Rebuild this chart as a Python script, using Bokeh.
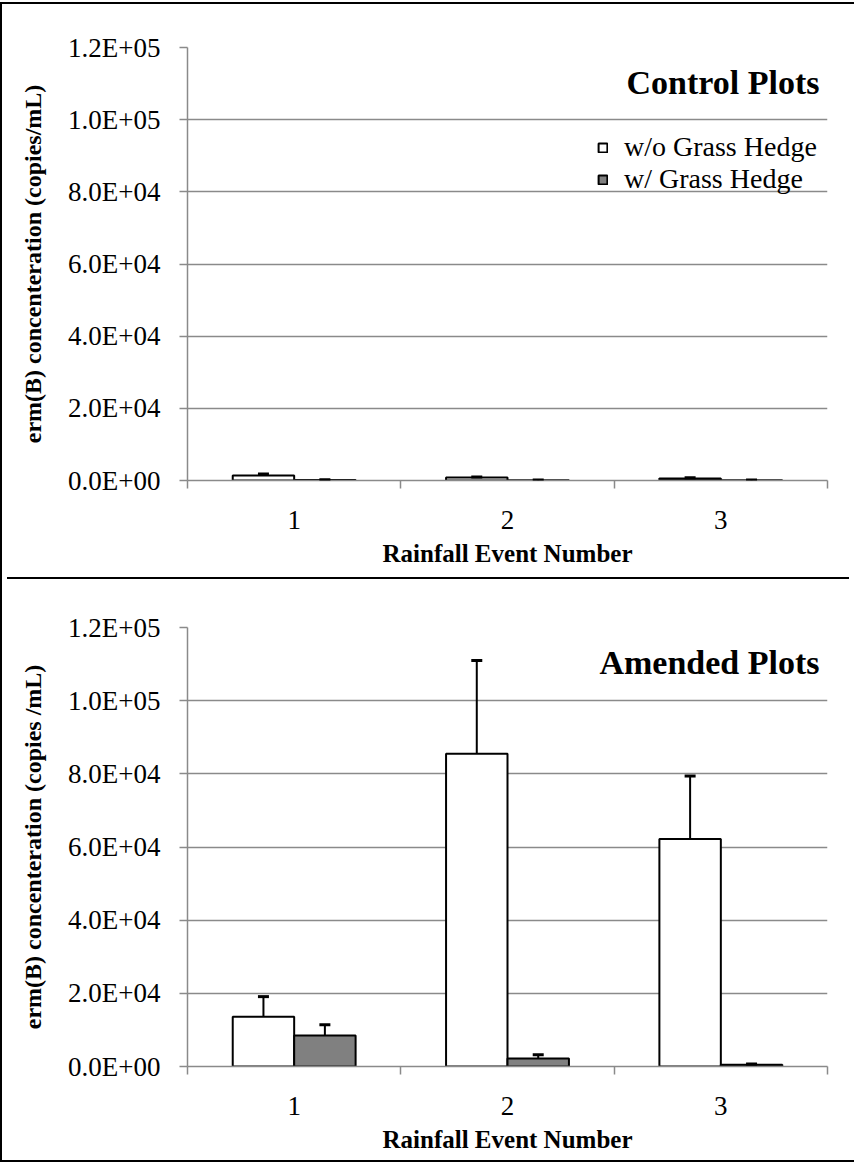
import numpy as np
from bokeh.plotting import figure
from bokeh.models import (ColumnDataSource, FixedTicker, Whisker, TeeHead, Label,
                          Legend, LegendItem, Range1d, Div, LinearAxis)
from bokeh.layouts import column
from bokeh.embed import file_html
from bokeh.resources import INLINE

# ---------------- data ----------------
events = [1, 2, 3]
event_labels = ["1", "2", "3"]
y_ticks = [0, 20000, 40000, 60000, 80000, 100000, 120000]
y_tick_labels = ["0.0E+00", "2.0E+04", "4.0E+04", "6.0E+04", "8.0E+04", "1.0E+05", "1.2E+05"]

series_names = ["w/o Grass Hedge", "w/ Grass Hedge"]
series_colors = ["#ffffff", "#808080"]

control_without = [1400, 800, 550]
control_without_err = [400, 200, 200]
control_with = [150, 100, 80]
control_with_err = [60, 40, 30]

amended_without = [13600, 85500, 62200]
amended_without_err = [5500, 25500, 17200]
amended_with = [8500, 2200, 500]
amended_with_err = [2900, 1000, 150]

x_title = "Rainfall Event Number"
y_title_top = "erm(B) concenteration (copies/mL)"
y_title_bottom = "erm(B) concenteration (copies /mL)"

# ---------------- style ----------------
FONT = "serif"
GRID = "#8a8a8a"
FRAME_W = 640
BAR_W = 0.288
YMAX = 120000


def make_panel(title, y_title, wo, wo_err, wi, wi_err, frame_h, mb_bottom, with_legend):
    p = figure(frame_width=FRAME_W, frame_height=frame_h,
               min_border_left=185, min_border_right=17,
               min_border_top=43, min_border_bottom=mb_bottom,
               x_range=Range1d(0.5, 3.5), y_range=Range1d(0, YMAX),
               output_backend="svg", toolbar_location=None, tools="")
    p.outline_line_color = None

    p.xgrid.visible = False
    p.ygrid.ticker = FixedTicker(ticks=y_ticks)
    p.ygrid.grid_line_color = GRID
    p.ygrid.grid_line_width = 1.5

    # y axis
    yax = p.yaxis[0]
    yax.ticker = FixedTicker(ticks=y_ticks)
    yax.major_label_overrides = {float(t): l for t, l in zip(y_ticks, y_tick_labels)}
    yax.axis_line_color = GRID
    yax.axis_line_width = 1.5
    yax.major_tick_line_color = GRID
    yax.major_tick_line_width = 1.5
    yax.major_tick_out = 8
    yax.major_tick_in = 0
    yax.minor_tick_line_color = None
    yax.major_label_standoff = 19
    yax.major_label_text_font = FONT
    yax.major_label_text_font_size = "27px"
    yax.major_label_text_color = "black"
    yax.axis_label = y_title
    yax.axis_label_text_font = FONT
    yax.axis_label_text_font_size = "24px"
    yax.axis_label_text_font_style = "bold"
    yax.axis_label_text_color = "black"
    yax.axis_label_standoff = 19

    # x axis: labels at centres, tick marks at category boundaries
    xax = p.xaxis[0]
    bounds = [e - 0.5 for e in events] + [events[-1] + 0.5]
    xax.ticker = FixedTicker(ticks=events, minor_ticks=bounds)
    xax.major_label_overrides = {float(e): l for e, l in zip(events, event_labels)}
    xax.axis_line_color = GRID
    xax.axis_line_width = 1.5
    xax.major_tick_line_color = None
    xax.major_tick_out = 0
    xax.major_tick_in = 0
    xax.minor_tick_line_color = GRID
    xax.minor_tick_line_width = 1.5
    xax.minor_tick_out = 8
    xax.minor_tick_in = 0
    xax.major_label_standoff = 22
    xax.major_label_text_font = FONT
    xax.major_label_text_font_size = "27px"
    xax.major_label_text_color = "black"

    # x axis title: an outer bottom axis carrying one centred label
    xc = events[len(events) // 2]
    xtitle_axis = LinearAxis(ticker=FixedTicker(ticks=[xc]),
                             major_label_overrides={float(xc): x_title},
                             axis_line_color=None, major_tick_line_color=None,
                             minor_tick_line_color=None,
                             major_tick_out=0, major_tick_in=0,
                             major_label_standoff=8,
                             major_label_text_font=FONT,
                             major_label_text_font_size="25px",
                             major_label_text_font_style="bold",
                             major_label_text_color="black")
    p.add_layout(xtitle_axis, "below")

    src = ColumnDataSource(dict(
        x_wo=[e - BAR_W / 2 for e in events],
        x_wi=[e + BAR_W / 2 for e in events],
        wo=wo, wo_up=[v + e for v, e in zip(wo, wo_err)],
        wi=wi, wi_up=[v + e for v, e in zip(wi, wi_err)],
    ))
    r1 = p.vbar(x="x_wo", top="wo", bottom=0, width=BAR_W, source=src,
                fill_color=series_colors[0], line_color="black", line_width=2)
    r2 = p.vbar(x="x_wi", top="wi", bottom=0, width=BAR_W, source=src,
                fill_color=series_colors[1], line_color="black", line_width=2)

    for xcol, lo, up in (("x_wo", "wo", "wo_up"), ("x_wi", "wi", "wi_up")):
        wh = Whisker(source=src, base=xcol, lower=lo, upper=up, dimension="height",
                     line_color="black", line_width=2, level="annotation",
                     upper_head=TeeHead(size=11, line_color="black", line_width=3),
                     lower_head=None)
        p.add_layout(wh)

    # panel title
    p.add_layout(Label(x=3.5, y=YMAX * (1 - 35 / frame_h), x_offset=-8,
                       text=title, text_align="right", text_baseline="middle",
                       text_font=FONT, text_font_size="34px",
                       text_font_style="bold", text_color="black"))

    if with_legend:
        legend = Legend(items=[LegendItem(label=series_names[0], renderers=[r1]),
                               LegendItem(label=series_names[1], renderers=[r2])],
                        location=(410, 285))
        legend.background_fill_alpha = 0
        legend.border_line_color = None
        legend.padding = 0
        legend.margin = 0
        legend.spacing = 0
        legend.glyph_width = 11
        legend.glyph_height = 11
        legend.label_standoff = 16
        legend.label_text_font = FONT
        legend.label_text_font_size = "28px"
        legend.label_text_color = "black"
        p.add_layout(legend)
    return p


p1 = make_panel("Control Plots", y_title_top,
                control_without, control_without_err, control_with, control_with_err,
                frame_h=433, mb_bottom=92, with_legend=True)
p2 = make_panel("Amended Plots", y_title_bottom,
                amended_without, amended_without_err, amended_with, amended_with_err,
                frame_h=439, mb_bottom=94, with_legend=False)

sep = Div(width=842, height=2, styles={"background-color": "black"})
layout = column(p1, sep, p2,
                styles={"border": "2px solid black", "margin-top": "2px"})

open("out.html", "w").write(file_html(layout, INLINE))
